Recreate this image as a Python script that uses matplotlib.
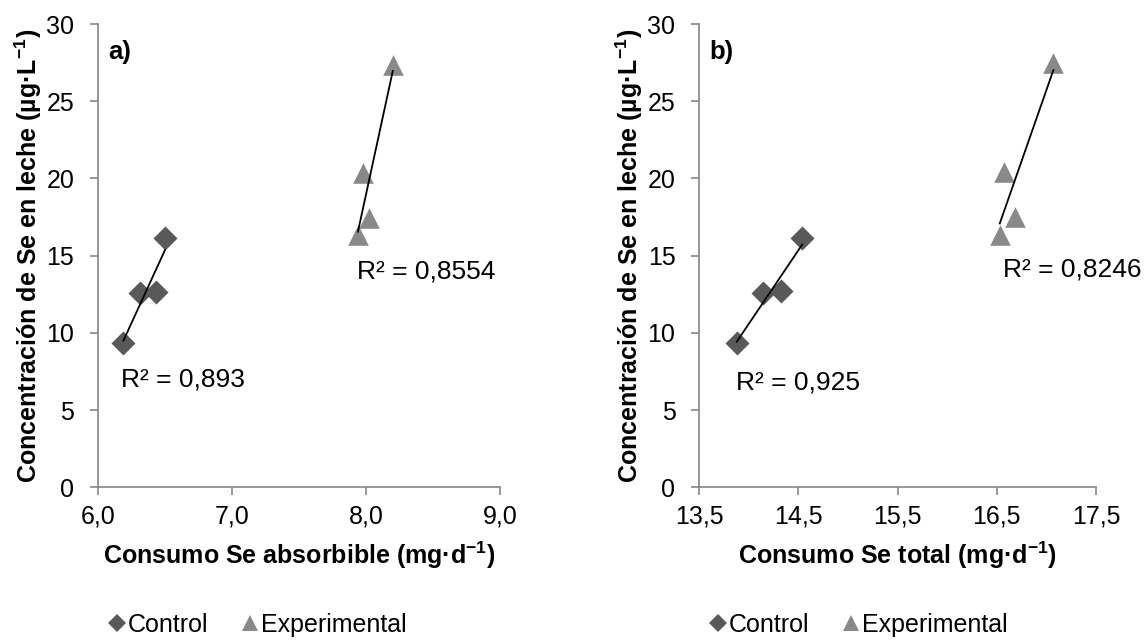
import matplotlib
matplotlib.use("Agg")
import matplotlib.pyplot as plt
from matplotlib.lines import Line2D
import numpy as np

plt.rcParams["font.family"] = ["Liberation Sans", "DejaVu Sans"]
plt.rcParams["mathtext.fontset"] = "custom"
plt.rcParams["mathtext.rm"] = "Liberation Sans"
plt.rcParams["mathtext.bf"] = "Liberation Sans:bold"

# ── data ──────────────────────────────────────────
ctrl_abs_x = [6.19, 6.31, 6.43, 6.50]
ctrl_abs_y = [9.33, 12.57, 12.67, 16.13]
exp_abs_x = [8.20, 7.98, 8.02, 7.94]
exp_abs_y = [27.35, 20.34, 17.42, 16.34]

ctrl_tot_x = [13.88, 14.14, 14.33, 14.54]
ctrl_tot_y = [9.33, 12.61, 12.74, 16.13]
exp_tot_x = [17.07, 16.57, 16.68, 16.53]
exp_tot_y = [27.46, 20.44, 17.53, 16.34]

r2_abs = ["0,893", "0,8554"]
r2_tot = ["0,925", "0,8246"]

xticks_abs = [6.0, 7.0, 8.0, 9.0]
xticks_tot = [13.5, 14.5, 15.5, 16.5, 17.5]
yticks = [0, 5, 10, 15, 20, 25, 30]

C_CTRL = "#595959"
C_EXP = "#898989"
C_AX = "#868686"

fig = plt.figure(figsize=(11.46, 6.42), dpi=100)
ax_a = fig.add_axes([0.0855, 0.2407, 0.3508, 0.7219])
ax_b = fig.add_axes([0.6100, 0.2407, 0.3464, 0.7219])

ylabel = r"Concentración de Se en leche (µg·L$^{\mathbf{-1}}$)"


def fmt(v, nd):
    return f"{v:.{nd}f}".replace(".", ",")


def panel(ax, cx, cy, ex, ey, r2, xticks, xlabel, tag, r2_pos):
    ax.scatter(cx, cy, marker="D", s=150, color=C_CTRL, zorder=3, linewidths=0)
    ax.scatter(ex, ey, marker="^", s=220, color=C_EXP, zorder=3, linewidths=0)
    for xs, ys in ((cx, cy), (ex, ey)):
        k, b = np.polyfit(xs, ys, 1)
        xx = np.array([min(xs), max(xs)])
        ax.plot(xx, k * xx + b, color="black", lw=1.3, zorder=4)
    for txt, (px, py) in zip(r2, r2_pos):
        ax.text(px, py, f"R² = {txt}", fontsize=19, va="center", ha="left")

    ax.set_xlim(xticks[0], xticks[-1])
    ax.set_ylim(0, 30)
    ax.set_xticks(xticks)
    ax.set_xticklabels([fmt(t, 1) for t in xticks])
    ax.set_yticks(yticks)
    ax.tick_params(direction="out", length=6, width=1.2, color=C_AX,
                   labelsize=18)
    ax.tick_params(axis="y", pad=11)
    ax.tick_params(axis="x", pad=6)
    for s in ("top", "right"):
        ax.spines[s].set_visible(False)
    for s in ("left", "bottom"):
        ax.spines[s].set_color(C_AX)
        ax.spines[s].set_linewidth(1.2)
    ax.set_xlabel(xlabel, fontsize=18, fontweight="bold", labelpad=8)
    ax.set_ylabel(ylabel, fontsize=18, fontweight="bold", labelpad=2)
    ax.text(0.025, 0.965, tag, transform=ax.transAxes, fontsize=18.5,
            fontweight="bold", va="top", ha="left")


panel(ax_a, ctrl_abs_x, ctrl_abs_y, exp_abs_x, exp_abs_y, r2_abs, xticks_abs,
      r"Consumo Se absorbible (mg·d$^{\mathbf{-1}}$)", "a)",
      [(6.17, 7.0), (7.93, 14.0)])
panel(ax_b, ctrl_tot_x, ctrl_tot_y, exp_tot_x, exp_tot_y, r2_tot, xticks_tot,
      r"Consumo Se total (mg·d$^{\mathbf{-1}}$)", "b)",
      [(13.87, 6.8), (16.56, 14.1)])

handles = [
    Line2D([], [], marker="D", ls="", color=C_CTRL, markersize=9.5, mew=0),
    Line2D([], [], marker="^", ls="", color=C_EXP, markersize=12, mew=0),
]
for x0 in (0.079, 0.6035):
    fig.legend(handles, ["Control", "Experimental"], loc="center left",
               bbox_to_anchor=(x0, 0.0265), ncol=2, frameon=False, fontsize=18,
               handletextpad=-0.1, columnspacing=1.1, handlelength=1.1,
               borderpad=0.0)

fig.savefig("out.png", dpi=100, facecolor="white")
